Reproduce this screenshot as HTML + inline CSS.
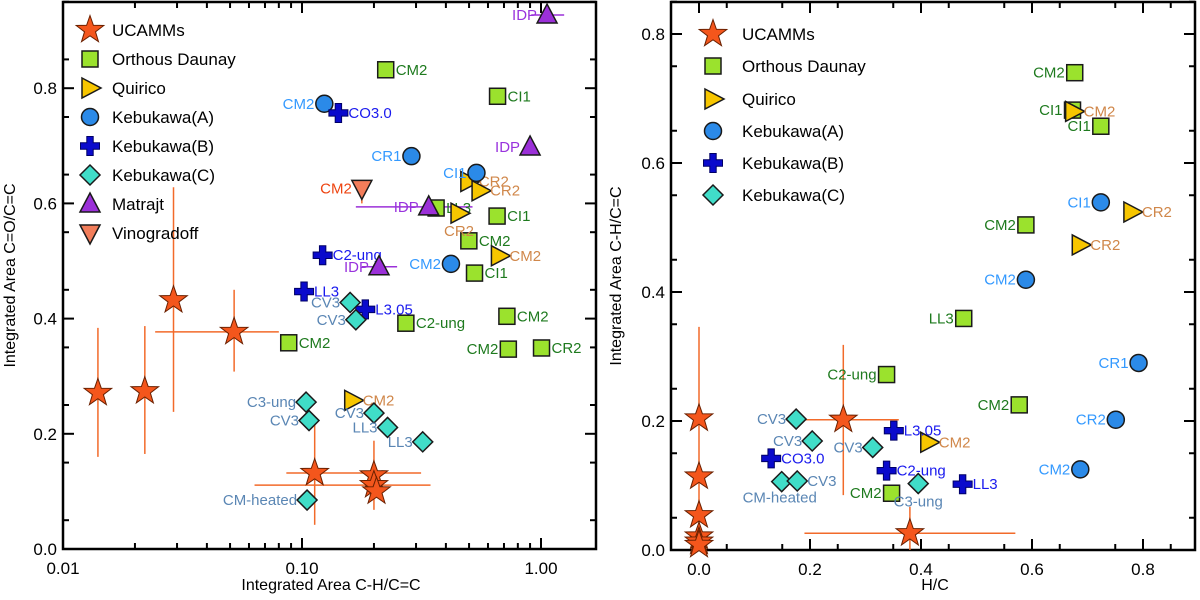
<!DOCTYPE html>
<html><head><meta charset="utf-8"><style>
html,body{margin:0;padding:0;background:#fff;}
svg{display:block;font-family:"Liberation Sans",Arial,sans-serif;}
</style></head><body>
<svg id="chart" width="1200" height="600" viewBox="0 0 1200 600" xmlns="http://www.w3.org/2000/svg">
<rect x="0" y="0" width="1200" height="600" fill="#fff"/>
<g id="gl"></g>
<g id="gr"></g>
</svg>
<script>
// ---------- LEFT PANEL DATA ----------
const L_uc_x=[0.014,0.022,0.029,0.052,0.113,0.20,0.20,0.205];
const L_uc_y=[0.271,0.274,0.432,0.377,0.132,0.128,0.111,0.10];
const L_uc_xlo=[null,null,null,0.0243,0.086,null,0.0633,null];
const L_uc_xhi=[null,null,null,0.080,0.315,null,0.345,null];
const L_uc_ylo=[0.160,0.165,0.238,0.308,0.042,0.068,null,null];
const L_uc_yhi=[0.384,0.387,0.628,0.450,0.224,0.188,null,null];

const L_od_x=[0.224,0.658,0.364,0.655,0.499,0.527,0.72,0.73,1.005,0.272,0.088];
const L_od_y=[0.832,0.786,0.592,0.578,0.535,0.479,0.404,0.347,0.349,0.392,0.358];
const L_od_lab=["CM2","CI1","LL3","CI1","CM2","CI1","CM2","CM2","CR2","C2-ung","CM2"];
const L_od_side=["r","r","r","r","r","r","r","l","r","r","r"];

const L_qu_x=[0.499,0.556,0.454,0.67,0.163];
const L_qu_y=[0.638,0.622,0.583,0.509,0.258];
const L_qu_lab=["CR2","CR2","CR2","CM2","CM2"];
const L_qu_side=["r","r","b","r","r"];

const L_ka_x=[0.124,0.287,0.537,0.42];
const L_ka_y=[0.773,0.682,0.653,0.495];
const L_ka_lab=["CM2","CR1","CI1","CM2"];
const L_ka_side=["l","l","l","l"];

const L_kb_x=[0.142,0.122,0.102,0.184];
const L_kb_y=[0.757,0.510,0.447,0.416];
const L_kb_lab=["CO3.0","C2-ung","LL3","L3.05"];
const L_kb_side=["r","r","r","r"];

const L_kc_x=[0.159,0.168,0.104,0.107,0.2,0.228,0.32,0.105];
const L_kc_y=[0.428,0.398,0.255,0.223,0.236,0.211,0.186,0.085];
const L_kc_lab=["CV3","CV3","C3-ung","CV3","CV3","LL3","LL3","CM-heated"];
const L_kc_side=["l","l","l","l","l","l","l","l"];

const L_ma_x=[1.06,0.9,0.339,0.21];
const L_ma_y=[0.927,0.698,0.594,0.49];
const L_ma_xlo=[0.91,null,0.168,0.178];
const L_ma_xhi=[1.25,null,0.517,0.25];
const L_ma_lab=["IDP","IDP","IDP","IDP"];
const L_ma_side=["l","l","l","l"];

const L_vi_x=[0.178];
const L_vi_y=[0.626];
const L_vi_lab=["CM2"];
const L_vi_side=["l"];

// ---------- RIGHT PANEL DATA ----------
const R_uc_x=[0,0,0,0,0,0,0.26,0.38];
const R_uc_y=[0.204,0.114,0.054,0.021,0.013,0.008,0.202,0.026];
const R_uc_xlo=[null,null,null,null,null,null,0.163,0.19];
const R_uc_xhi=[null,null,null,null,null,null,0.36,0.57];
const R_uc_ylo=[0,null,null,null,null,null,0.085,0];
const R_uc_yhi=[0.346,null,null,null,null,null,0.318,0.067];

const R_od_x=[0.677,0.673,0.724,0.589,0.477,0.338,0.577,0.347];
const R_od_y=[0.74,0.682,0.657,0.504,0.359,0.272,0.225,0.088];
const R_od_lab=["CM2","CI1","CI1","CM2","LL3","C2-ung","CM2","CM2"];
const R_od_side=["l","l","l","l","l","l","l","l"];

const R_qu_x=[0.675,0.78,0.687,0.414];
const R_qu_y=[0.68,0.524,0.473,0.167];
const R_qu_lab=["CM2","CR2","CR2","CM2"];
const R_qu_side=["r","r","r","r"];

const R_ka_x=[0.724,0.589,0.792,0.751,0.687];
const R_ka_y=[0.539,0.419,0.29,0.202,0.125];
const R_ka_lab=["CI1","CM2","CR1","CR2","CM2"];
const R_ka_side=["l","l","l","l","l"];

const R_kb_x=[0.13,0.351,0.338,0.475];
const R_kb_y=[0.142,0.185,0.123,0.102];
const R_kb_lab=["CO3.0","L3.05","C2-ung","LL3"];
const R_kb_side=["r","r","r","r"];

const R_kc_x=[0.175,0.204,0.313,0.149,0.177,0.395];
const R_kc_y=[0.203,0.169,0.159,0.106,0.107,0.103];
const R_kc_lab=["CV3","CV3","CV3","CM-heated","CV3","C3-ung"];
const R_kc_side=["l","l","l","bl","r","b"];

// ---------- AXES ----------
const xL=v=>63+(Math.log10(v)+2)*239;
const yL=v=>549-v*576;
const xR=v=>699+v*555;
const yR=v=>550-v*645;

const NS="http://www.w3.org/2000/svg";
function mk(tag,attrs,parent){const e=document.createElementNS(NS,tag);for(const k in attrs)e.setAttribute(k,attrs[k]);parent.appendChild(e);return e;}

const STYLE={
 star:{fill:"#f4561c",stroke:"#6a2000",lab:"#ee4411"},
 square:{fill:"#9be22d",stroke:"#1a1a1a",lab:"#1e7a1e"},
 triR:{fill:"#f7c600",stroke:"#1a1a1a",lab:"#d0874a"},
 circle:{fill:"#2b8ae8",stroke:"#1a1a1a",lab:"#3399ff"},
 plus:{fill:"#0a0acc",stroke:"#000066",lab:"#1a1aee"},
 diamond:{fill:"#40ddc8",stroke:"#1a1a1a",lab:"#5a86b4"},
 triUp:{fill:"#9b30d8",stroke:"#1a1a1a",lab:"#9933dd"},
 triDown:{fill:"#f27d5a",stroke:"#1a1a1a",lab:"#ee4411"}
};

function marker(type,cx,cy,g,name,s){
 s=s||1;const st=STYLE[type];let e;
 if(type==="star"){let p=[];for(let i=0;i<10;i++){const r=(i%2?5.8:14.5)*s;const a=-Math.PI/2+i*Math.PI/5;p.push((cx+r*Math.cos(a)).toFixed(1)+","+(cy+r*Math.sin(a)).toFixed(1));}
  e=mk("polygon",{points:p.join(" "),fill:st.fill,stroke:st.stroke,"stroke-width":1},g);}
 else if(type==="square"){e=mk("rect",{x:cx-8*s,y:cy-8*s,width:16*s,height:16*s,fill:st.fill,stroke:st.stroke,"stroke-width":1.5},g);}
 else if(type==="circle"){e=mk("circle",{cx:cx,cy:cy,r:8.5*s,fill:st.fill,stroke:st.stroke,"stroke-width":1.5},g);}
 else if(type==="triR"){e=mk("polygon",{points:`${cx-8*s},${cy-10*s} ${cx+11*s},${cy} ${cx-8*s},${cy+10*s}`,fill:st.fill,stroke:st.stroke,"stroke-width":1.5},g);}
 else if(type==="triUp"){e=mk("polygon",{points:`${cx-10*s},${cy+8*s} ${cx},${cy-11*s} ${cx+10*s},${cy+8*s}`,fill:st.fill,stroke:st.stroke,"stroke-width":1.5},g);}
 else if(type==="triDown"){e=mk("polygon",{points:`${cx-10*s},${cy-8*s} ${cx},${cy+11*s} ${cx+10*s},${cy-8*s}`,fill:st.fill,stroke:st.stroke,"stroke-width":1.5},g);}
 else if(type==="plus"){const a=3.2*s,b=9.5*s;
  e=mk("polygon",{points:`${cx-a},${cy-b} ${cx+a},${cy-b} ${cx+a},${cy-a} ${cx+b},${cy-a} ${cx+b},${cy+a} ${cx+a},${cy+a} ${cx+a},${cy+b} ${cx-a},${cy+b} ${cx-a},${cy+a} ${cx-b},${cy+a} ${cx-b},${cy-a} ${cx-a},${cy-a}`,fill:st.fill,stroke:st.stroke,"stroke-width":1},g);}
 else if(type==="diamond"){const d=10*s;e=mk("polygon",{points:`${cx},${cy-d} ${cx+d},${cy} ${cx},${cy+d} ${cx-d},${cy}`,fill:st.fill,stroke:st.stroke,"stroke-width":1.5},g);}
 
 
 return e;
}

function label(txt,side,cx,cy,color,g){
 let x=cx,y=cy,anc="start";
 if(side==="r"){x=cx+10;}
 else if(side==="l"){x=cx-10;anc="end";}
 else if(side==="b"){y=cy+18;anc="middle";}
 else if(side==="bl"){x=cx-2;y=cy+16;anc="middle";}
 const t=mk("text",{x:x,y:y+5,"text-anchor":anc,"font-size":15,fill:color},g);
 t.textContent=txt;
 
 
}

function errbars(xs,ys,xlo,xhi,ylo,yhi,fx,fy,g,color){
 for(let i=0;i<xs.length;i++){
  if(xlo&&xlo[i]!=null){const l=mk("line",{x1:fx(xlo[i]),x2:fx(xhi[i]),y1:fy(ys[i]),y2:fy(ys[i]),stroke:color,"stroke-width":1.5},g);
   
   }
  if(ylo&&ylo[i]!=null){const l=mk("line",{x1:fx(xs[i]),x2:fx(xs[i]),y1:fy(ylo[i]),y2:fy(yhi[i]),stroke:color,"stroke-width":1.5},g);
   
   }
 }
}

function series(type,xs,ys,labs,sides,fx,fy,g,name){
 for(let i=0;i<xs.length;i++){
  const cx=fx(xs[i]),cy=fy(ys[i]);
  marker(type,cx,cy,g,name+"-point");
  if(labs)label(labs[i],sides[i],cx,cy,STYLE[type].lab,g);
 }
}

function axes(g,box,xt,xlab,xminor,fx,yt,ylab,yminor,fy,xtitle,ytitle,ytx){
 const [x0,y0,x1,y1]=box;
 const fr=mk("rect",{x:x0,y:y0,width:x1-x0,height:y1-y0,fill:"none",stroke:"#000","stroke-width":2.5},g);
 
 
 const tick=(xa,ya,xb,yb)=>mk("line",{x1:xa,y1:ya,x2:xb,y2:yb,stroke:"#000","stroke-width":2},g);
 xt.forEach((v,i)=>{const x=fx(v);tick(x,y1,x,y1-11);tick(x,y0,x,y0+11);
  const t=mk("text",{x:x,y:y1+25,"text-anchor":"middle","font-size":17},g);t.textContent=xlab[i];
  
  });
 xminor.forEach(v=>{const x=fx(v);tick(x,y1,x,y1-6);tick(x,y0,x,y0+6);});
 yt.forEach((v,i)=>{const y=fy(v);tick(x0,y,x0+11,y);tick(x1,y,x1-11,y);
  const t=mk("text",{x:x0-6,y:y+6,"text-anchor":"end","font-size":17},g);t.textContent=ylab[i];
  
  });
 yminor.forEach(v=>{const y=fy(v);tick(x0,y,x0+6,y);tick(x1,y,x1-6,y);});
 const xt2=mk("text",{x:xtitle[1],y:590,"text-anchor":"middle","font-size":16},g);xt2.textContent=xtitle[0];
 
 
 const cy=(y0+y1)/2;
 const yt2=mk("text",{x:ytx,y:cy,"text-anchor":"middle","font-size":16,transform:`rotate(-90 ${ytx} ${cy})`},g);yt2.textContent=ytitle;
 
 
}

function legend(g,items,mx,tx,ys){
 items.forEach((it,i)=>{
  marker(it[0],mx,ys[i],g,"legend-marker");
  const t=mk("text",{x:tx,y:ys[i]+6,"font-size":17},g);t.textContent=it[1];
  
  
 });
}

// ---- LEFT ----
const gl=document.getElementById("gl");
const lxMinor=[];[0.01,0.1,1].forEach(d=>{for(let k=2;k<=9;k++){const v=k*d;if(v<1.68)lxMinor.push(v);}});
const lyMinor=[];for(let v=0.05;v<0.95;v+=0.1)lyMinor.push(v);
axes(gl,[63,2,596,549],[0.01,0.1,1],["0.01","0.10","1.00"],lxMinor,xL,
 [0,0.2,0.4,0.6,0.8],["0.0","0.2","0.4","0.6","0.8"],lyMinor,yL,
 ["Integrated Area C-H/C=C",331],"Integrated Area C=O/C=C",15);
errbars(L_uc_x,L_uc_y,L_uc_xlo,L_uc_xhi,L_uc_ylo,L_uc_yhi,xL,yL,gl,"#f26a2a");
errbars(L_ma_x,L_ma_y,L_ma_xlo,L_ma_xhi,null,null,xL,yL,gl,"#9b30d8");
errbars([0.178],[0.626],null,null,[0.600],[0.626],xL,yL,gl,"#f26a2a");
series("square",L_od_x,L_od_y,L_od_lab,L_od_side,xL,yL,gl,"orthous-dauney");
series("triR",L_qu_x,L_qu_y,L_qu_lab,L_qu_side,xL,yL,gl,"quirico");
series("circle",L_ka_x,L_ka_y,L_ka_lab,L_ka_side,xL,yL,gl,"kebukawa-a");
series("plus",L_kb_x,L_kb_y,L_kb_lab,L_kb_side,xL,yL,gl,"kebukawa-b");
series("diamond",L_kc_x,L_kc_y,L_kc_lab,L_kc_side,xL,yL,gl,"kebukawa-c");
series("triUp",L_ma_x,L_ma_y,L_ma_lab,L_ma_side,xL,yL,gl,"matrajt");
series("triDown",L_vi_x,L_vi_y,L_vi_lab,L_vi_side,xL,yL,gl,"vinogradoff");
series("star",L_uc_x,L_uc_y,null,null,xL,yL,gl,"ucamms");
legend(gl,[["star","UCAMMs"],["square","Orthous Daunay"],["triR","Quirico"],["circle","Kebukawa(A)"],["plus","Kebukawa(B)"],["diamond","Kebukawa(C)"],["triUp","Matrajt"],["triDown","Vinogradoff"]],
 90,112,[30,59,88,117,146,175,204,233]);

// ---- RIGHT ----
const gr=document.getElementById("gr");
const rxMinor=[];for(let v=0.05;v<0.9;v+=0.1)rxMinor.push(v);
const ryMinor=[];for(let v=0.05;v<0.85;v+=0.1)ryMinor.push(v);
axes(gr,[671,2,1195,550],[0,0.2,0.4,0.6,0.8],["0.0","0.2","0.4","0.6","0.8"],rxMinor,xR,
 [0,0.2,0.4,0.6,0.8],["0.0","0.2","0.4","0.6","0.8"],ryMinor,yR,
 ["H/C",935],"Integrated Area C-H/C=C",621);
errbars(R_uc_x,R_uc_y,R_uc_xlo,R_uc_xhi,R_uc_ylo,R_uc_yhi,xR,yR,gr,"#f26a2a");
series("square",R_od_x,R_od_y,R_od_lab,R_od_side,xR,yR,gr,"orthous-dauney");
series("triR",R_qu_x,R_qu_y,R_qu_lab,R_qu_side,xR,yR,gr,"quirico");
series("circle",R_ka_x,R_ka_y,R_ka_lab,R_ka_side,xR,yR,gr,"kebukawa-a");
series("plus",R_kb_x,R_kb_y,R_kb_lab,R_kb_side,xR,yR,gr,"kebukawa-b");
series("diamond",R_kc_x,R_kc_y,R_kc_lab,R_kc_side,xR,yR,gr,"kebukawa-c");
series("star",R_uc_x,R_uc_y,null,null,xR,yR,gr,"ucamms");
legend(gr,[["star","UCAMMs"],["square","Orthous Daunay"],["triR","Quirico"],["circle","Kebukawa(A)"],["plus","Kebukawa(B)"],["diamond","Kebukawa(C)"]],
 713,742,[34,66,99,131,163,195]);
</script>
</body></html>
